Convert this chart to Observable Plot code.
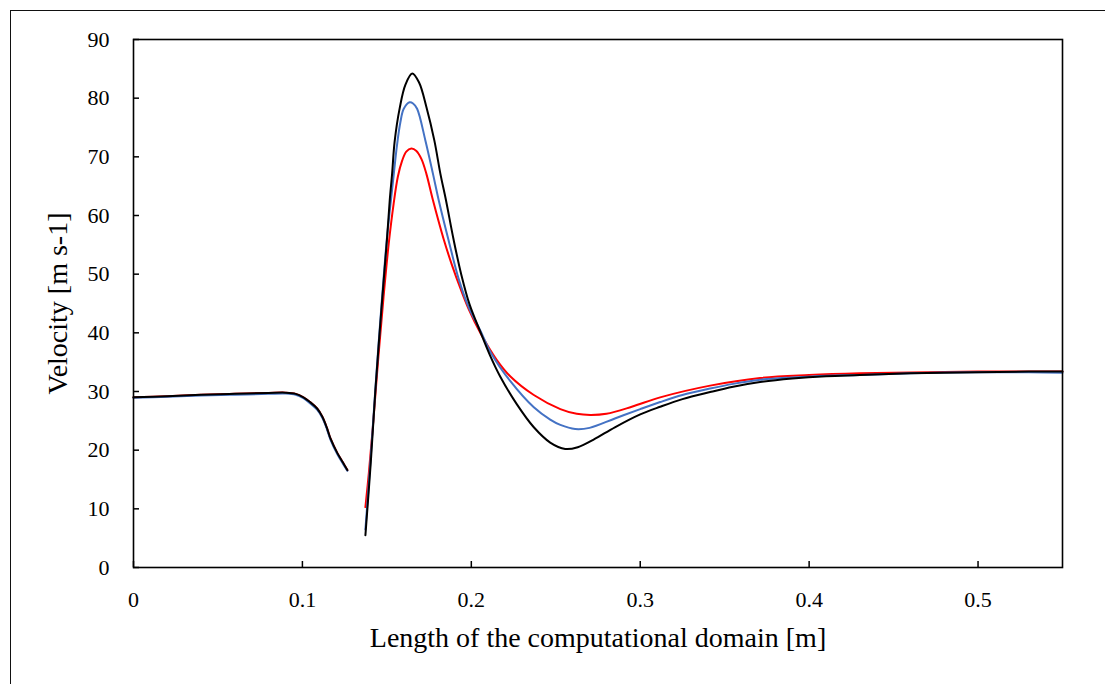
<!DOCTYPE html>
<html><head><meta charset="utf-8">
<script src="https://cdn.jsdelivr.net/npm/d3@7"></script>
<script src="https://cdn.jsdelivr.net/npm/@observablehq/plot@0.6"></script>
<style>
html,body{margin:0;padding:0;overflow:hidden;background:#fff;}
#wrap{position:relative;width:1105px;height:684px;}
#border{position:absolute;left:10px;top:10px;width:1300px;height:900px;border:1px solid #111;box-sizing:border-box;pointer-events:none;}
</style></head><body><div id="wrap"><div id="border"></div></div>
<script>
const xTicks = [0, 0.1, 0.2, 0.3, 0.4, 0.5];
const yTicks = [0, 10, 20, 30, 40, 50, 60, 70, 80, 90];
const xLabel = "Length of the computational domain [m]";
const yLabel = "Velocity [m s-1]";
const seriesNames = ["Case C", "Case B", "Case A"];
const seriesColors = ["#ff0000", "#4472c4", "#000000"];

// upstream segment (before the gap)
const seg1X = [0, 0.02, 0.04, 0.06, 0.08, 0.09, 0.096, 0.1006, 0.1045, 0.1087, 0.1118, 0.1145, 0.1166, 0.1207, 0.124, 0.1266];
const blackSeg1Y = [29.0, 29.2, 29.45, 29.6, 29.75, 29.8, 29.6, 29.0, 28.2, 27.1, 25.7, 23.8, 22.0, 19.5, 17.9, 16.6];
const blueSeg1Y  = [28.95, 29.1, 29.3, 29.45, 29.6, 29.65, 29.45, 28.85, 28.0, 26.9, 25.5, 23.6, 21.8, 19.3, 17.7, 16.5];
const redSeg1Y   = [29.0, 29.2, 29.45, 29.6, 29.75, 29.8, 29.6, 29.0, 28.2, 27.1, 25.7, 23.8, 22.0, 19.5, 17.9, 16.6];

// downstream segment (after the gap)
const blackSeg2X = [0.1373, 0.1405, 0.1432, 0.1465, 0.150, 0.1517, 0.1531, 0.1546, 0.1576, 0.161, 0.165, 0.169, 0.1734, 0.1781, 0.1817, 0.185, 0.1895, 0.194, 0.199, 0.2053, 0.211, 0.217, 0.227, 0.237, 0.2467, 0.2556, 0.263, 0.2724, 0.285, 0.300, 0.3118, 0.325, 0.3414, 0.355, 0.371, 0.390, 0.410, 0.430, 0.460, 0.500, 0.530, 0.550];
const blackSeg2Y = [5.5, 18.0, 30.2, 43.0, 55.7, 62.6, 67.1, 72.6, 78.3, 82.3, 84.2, 82.7, 78.5, 72.8, 67.1, 62.6, 55.9, 50.0, 44.8, 40.2, 36.2, 32.6, 27.8, 23.9, 21.3, 20.2, 20.5, 21.8, 23.9, 26.1, 27.4, 28.7, 29.9, 30.8, 31.6, 32.2, 32.6, 32.8, 33.1, 33.3, 33.4, 33.4];

const blueSeg2X = [0.1373, 0.1405, 0.1432, 0.1465, 0.150, 0.152, 0.154, 0.156, 0.158, 0.160, 0.1635, 0.1655, 0.1679, 0.1728, 0.1773, 0.1807, 0.1866, 0.1925, 0.1984, 0.2053, 0.212, 0.223, 0.237, 0.2467, 0.2527, 0.2615, 0.270, 0.285, 0.300, 0.3118, 0.325, 0.3414, 0.355, 0.371, 0.390, 0.410, 0.430, 0.460, 0.500, 0.530, 0.550];
const blueSeg2Y = [6.5, 19.0, 30.5, 43.5, 56.0, 61.5, 66.8, 72.0, 75.9, 78.2, 79.3, 79.1, 78.2, 72.8, 67.1, 62.6, 55.7, 49.2, 44.4, 40.4, 36.4, 31.8, 27.3, 25.2, 24.3, 23.6, 23.8, 25.4, 27.0, 28.2, 29.4, 30.5, 31.3, 32.0, 32.4, 32.7, 32.8, 33.1, 33.3, 33.3, 33.2];

const redSeg2X = [0.1373, 0.1393, 0.142, 0.145, 0.148, 0.1511, 0.154, 0.1565, 0.159, 0.1615, 0.1645, 0.1675, 0.1705, 0.1734, 0.1773, 0.1836, 0.1886, 0.1935, 0.1985, 0.2053, 0.215, 0.223, 0.237, 0.2527, 0.2624, 0.2704, 0.280, 0.295, 0.3118, 0.3414, 0.371, 0.400, 0.430, 0.460, 0.500, 0.530, 0.550];
const redSeg2Y = [10.3, 16.0, 25.0, 36.0, 46.0, 55.2, 62.0, 66.6, 69.3, 70.9, 71.4, 71.0, 69.6, 67.1, 62.6, 56.0, 51.5, 47.6, 44.0, 40.0, 35.4, 32.6, 29.4, 27.0, 26.2, 26.0, 26.2, 27.4, 29.0, 31.0, 32.3, 32.8, 33.1, 33.25, 33.4, 33.4, 33.4];

function build(name, x1, y1, x2, y2) {
  const rows = [];
  x1.forEach((x, i) => rows.push({series: name, x, y: y1[i]}));
  rows.push({series: name, x: (x1[x1.length - 1] + x2[0]) / 2, y: null});
  x2.forEach((x, i) => rows.push({series: name, x, y: y2[i]}));
  return rows;
}
const data = [
  ...build(seriesNames[0], seg1X, redSeg1Y, redSeg2X, redSeg2Y),
  ...build(seriesNames[1], seg1X, blueSeg1Y, blueSeg2X, blueSeg2Y),
  ...build(seriesNames[2], seg1X, blackSeg1Y, blackSeg2X, blackSeg2Y)
];

const W = 1105, H = 684, ML = 133, MR = 43, MT = 39, MB = 117, TICK = 6;
const xDomain = [0, 0.55], yDomain = [0, 90];
// tick length expressed in data units of the perpendicular scale
const tickYLen = TICK * (yDomain[1] - yDomain[0]) / (H - MT - MB);
const tickXLen = TICK * (xDomain[1] - xDomain[0]) / (W - ML - MR);
const font = "'Liberation Serif', 'Times New Roman', serif";
const chart = Plot.plot({
  width: W,
  height: H,
  marginLeft: ML,
  marginRight: MR,
  marginTop: MT,
  marginBottom: MB,
  style: {fontFamily: font, fontSize: "22px", color: "#000", background: "transparent", overflow: "visible"},
  x: {domain: xDomain},
  y: {domain: yDomain},
  color: {domain: seriesNames, range: seriesColors},
  marks: [
    Plot.line(data, {x: "x", y: "y", z: "series", stroke: "series", strokeWidth: 2, curve: "catmull-rom"}),
    Plot.ruleX(xTicks, {x: d => d, y1: yDomain[0], y2: yDomain[0] + tickYLen, stroke: "#000", strokeWidth: 1.5}),
    Plot.ruleY(yTicks, {y: d => d, x1: xDomain[0], x2: xDomain[0] + tickXLen, stroke: "#000", strokeWidth: 1.5}),
    Plot.frame({stroke: "#000", strokeWidth: 1.6}),
    Plot.axisX(xTicks, {tickSize: 0, tickPadding: 24, tickFormat: d => String(d), label: null, fontSize: 22}),
    Plot.axisY(yTicks, {tickSize: 0, tickPadding: 24, tickFormat: d => String(d), label: null, fontSize: 22}),
    Plot.text([xLabel], {text: d => d, frameAnchor: "bottom", lineAnchor: "middle", textAnchor: "middle", dy: 70.5, fontSize: 28}),
    Plot.text([yLabel], {text: d => d, frameAnchor: "left", lineAnchor: "middle", textAnchor: "middle", rotate: -90, dx: -75, fontSize: 28})
  ]
});
document.getElementById("wrap").insertBefore(chart, document.getElementById("border"));
chart.style.position = "absolute";
chart.style.left = "0px";
chart.style.top = "0px";
</script>
</body></html>
